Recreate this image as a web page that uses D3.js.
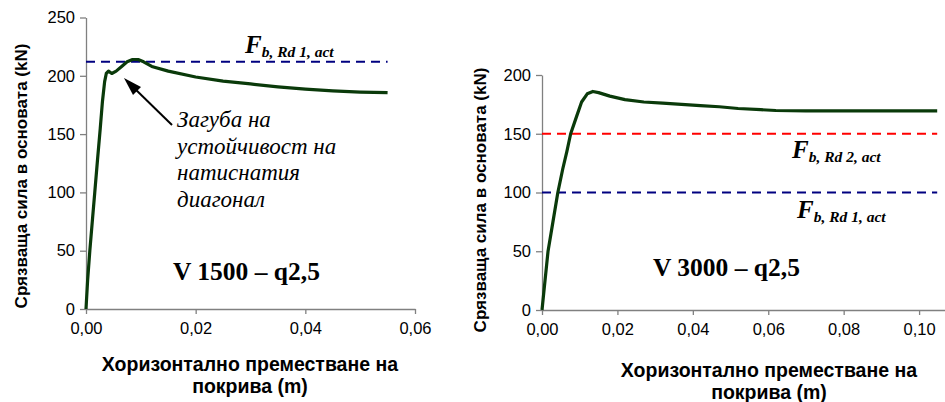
<html>
<head>
<script src="https://d3js.org/d3.v7.min.js"></script>
<style>
  body { margin: 0; background: #fff; }
  .axis path, .axis line { stroke: #808080; stroke-width: 1.3; }
  .axis text { font-family: "Liberation Sans", Arial, sans-serif; font-size: 16.5px; fill: #000; }
  .atitle { font-family: "Liberation Sans", Arial, sans-serif; font-weight: bold; fill: #000; }
  .serif { font-family: "Liberation Serif", "Times New Roman", serif; fill: #000; }
</style>
</head>
<body>
<svg width="945" height="402"></svg>
<script>
// left chart: V 1500 - q2,5
const leftX = [0, 0.0003, 0.0007, 0.0012, 0.0016, 0.0021, 0.0026, 0.003, 0.0034, 0.0037, 0.0041, 0.0047, 0.0055, 0.0065, 0.0075, 0.0085, 0.0095, 0.0105, 0.012, 0.015, 0.02, 0.025, 0.03, 0.035, 0.04, 0.045, 0.05, 0.055];
const leftY = [0, 25, 50, 78, 100, 128, 155, 178, 195, 202, 204, 202, 204, 208, 212, 214, 214, 212, 208, 204, 199, 195.5, 193, 190.5, 188.5, 187, 186, 185.5];
const leftLimit = 212;
const leftLimitX = [0, 0.055];
const leftXTicks = [0, 0.02, 0.04, 0.06];
const leftYTicks = [0, 50, 100, 150, 200, 250];

// right chart: V 3000 - q2,5
const rightX = [0, 0.0008, 0.0016, 0.0029, 0.0042, 0.0055, 0.0066, 0.0076, 0.0092, 0.0105, 0.012, 0.0135, 0.015, 0.018, 0.022, 0.027, 0.032, 0.037, 0.042, 0.047, 0.052, 0.058, 0.062, 0.07, 0.08, 0.09, 0.1, 0.1048];
const rightY = [0, 25, 50, 75, 100, 120, 135, 150, 165, 177, 184, 186, 185, 182, 179, 177, 176, 175, 174, 173, 171.5, 170.5, 169.8, 169.5, 169.5, 169.5, 169.5, 169.5];
const rightLimit1 = 100;
const rightLimit2 = 150;
const rightLimitX = [0, 0.1048];
const rightXTicks = [0, 0.02, 0.04, 0.06, 0.08, 0.10];
const rightYTicks = [0, 50, 100, 150, 200];

const svg = d3.select("svg");
const fmt = d => d3.format(".2f")(d).replace(".", ",");

function chart(o) {
  const x = d3.scaleLinear().domain(o.xDomain).range(o.xRange);
  const y = d3.scaleLinear().domain(o.yDomain).range(o.yRange);
  const g = svg.append("g");

  g.append("g").attr("class", "axis")
    .attr("transform", `translate(0,${o.yRange[0]})`)
    .call(d3.axisBottom(x).tickValues(o.xTicks).tickFormat(fmt).tickSizeInner(5).tickSizeOuter(0).tickPadding(8));
  g.append("g").attr("class", "axis")
    .attr("transform", `translate(${o.xRange[0]},0)`)
    .call(d3.axisLeft(y).tickValues(o.yTicks).tickSizeInner(6).tickSizeOuter(0).tickPadding(5));

  const line = d3.line().x(d => x(d[0])).y(d => y(d[1]));
  o.limits.forEach(l => {
    g.append("path")
      .datum(o.limitX.map(v => [v, l.value]))
      .attr("d", line)
      .attr("fill", "none")
      .attr("stroke", l.color)
      .attr("stroke-width", 2)
      .attr("stroke-dasharray", "9,6");
  });
  g.append("path")
    .datum(o.xs.map((v, i) => [v, o.ys[i]]))
    .attr("d", line)
    .attr("fill", "none")
    .attr("stroke", "#0a3a0a")
    .attr("stroke-width", 3.2)
    .attr("stroke-linejoin", "round");
  return { x, y, g };
}

function fLabel(g, x, y, sub) {
  const t = g.append("text").attr("class", "serif").attr("x", x).attr("y", y)
    .attr("font-weight", "bold").attr("font-style", "italic");
  t.append("tspan").attr("font-size", 25).text("F");
  t.append("tspan").attr("font-size", 15.5).attr("dy", 4).text(sub);
}

const L = chart({
  xDomain: [0, 0.06], xRange: [86, 415],
  yDomain: [0, 250], yRange: [309, 17.5],
  xTicks: leftXTicks, yTicks: leftYTicks,
  xs: leftX, ys: leftY,
  limitX: leftLimitX,
  limits: [{ value: leftLimit, color: "#000080" }]
});

const R = chart({
  xDomain: [0, 0.11], xRange: [542, 956.8],
  yDomain: [0, 200], yRange: [310, 75],
  xTicks: rightXTicks, yTicks: rightYTicks,
  xs: rightX, ys: rightY,
  limitX: rightLimitX,
  limits: [{ value: rightLimit2, color: "#ff0000" }, { value: rightLimit1, color: "#000080" }]
});

fLabel(L.g, 245, 53, "b, Rd 1, act");
fLabel(R.g, 792, 158, "b, Rd 2, act");
fLabel(R.g, 797, 218, "b, Rd 1, act");

// annotation
const note = ["Загуба на", "устойчивост на", "натиснатия", "диагонал"];
note.forEach((s, i) => {
  L.g.append("text").attr("class", "serif").attr("x", 177).attr("y", 127 + i * 26.5)
    .attr("font-size", 23).attr("font-style", "italic").text(s);
});
L.g.append("line").attr("x1", 172).attr("y1", 125).attr("x2", 131).attr("y2", 85)
  .attr("stroke", "#000").attr("stroke-width", 2);
L.g.append("path").attr("d", "M124,78 L141,87 L133,95 Z").attr("fill", "#000");

// series names
L.g.append("text").attr("class", "serif").attr("x", 173).attr("y", 280)
  .attr("font-size", 25.5).attr("font-weight", "bold").text("V 1500 – q2,5");
R.g.append("text").attr("class", "serif").attr("x", 653).attr("y", 276)
  .attr("font-size", 25.5).attr("font-weight", "bold").text("V 3000 – q2,5");

// axis titles
function xTitle(cx, y1) {
  const t = svg.append("text").attr("class", "atitle").attr("text-anchor", "middle")
    .attr("font-size", 19.5);
  t.append("tspan").attr("x", cx).attr("y", y1).text("Хоризонтално преместване на");
  t.append("tspan").attr("x", cx).attr("y", y1 + 22).text("покрива (m)");
}
xTitle(250, 371);
xTitle(769, 377);

function yTitle(cx, cy) {
  svg.append("text").attr("class", "atitle").attr("text-anchor", "middle")
    .attr("font-size", 17)
    .attr("transform", `translate(${cx},${cy}) rotate(-90)`)
    .text("Срязваща сила в основата (kN)");
}
yTitle(27, 176);
yTitle(486, 200);
</script>
</body>
</html>
